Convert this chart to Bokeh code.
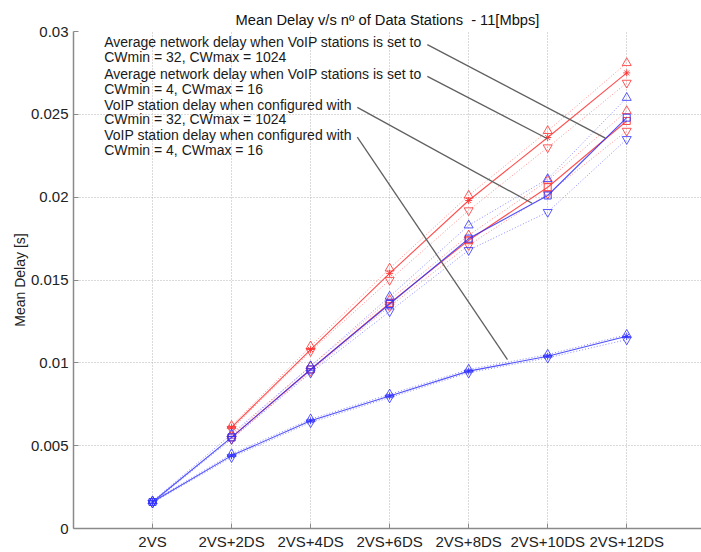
import numpy as np
from bokeh.plotting import figure
from bokeh.models import FixedTicker, Range1d, CustomJSTickFormatter
from bokeh.embed import file_html
from bokeh.resources import INLINE
from bokeh.core.properties import value

nan = float("nan")

# ---------------- data ----------------
categories = ["2VS", "2VS+2DS", "2VS+4DS", "2VS+6DS", "2VS+8DS", "2VS+10DS", "2VS+12DS"]
y_ticks = [0, 0.005, 0.01, 0.015, 0.02, 0.025, 0.03]

# Average network delay, VoIP CWmin=4, CWmax=16 (red, '*')
net_cw4_mean = [nan, 0.0061, 0.0108, 0.0154, 0.0198, 0.0236, 0.0275]
net_cw4_hi = [nan, 0.0062, 0.0110, 0.0157, 0.0201, 0.0240, 0.0281]
net_cw4_lo = [nan, 0.0060, 0.0107, 0.0150, 0.0192, 0.0230, 0.0269]

# Average network delay, VoIP CWmin=32, CWmax=1024 (red, square)
net_cw32_mean = [nan, 0.0055, 0.0096, 0.0136, 0.0174, 0.0206, 0.0246]
net_cw32_hi = [nan, 0.0056, 0.0098, 0.0138, 0.0177, 0.0210, 0.0252]
net_cw32_lo = [nan, 0.0054, 0.0095, 0.0134, 0.0171, 0.0202, 0.0240]

# VoIP station delay, CWmin=32, CWmax=1024 (blue, square)
voip_cw32_mean = [0.0016, 0.0055, 0.0096, 0.01355, 0.0175, 0.0201, 0.0248]
voip_cw32_hi = [0.00165, 0.0057, 0.0098, 0.0140, 0.0183, 0.0211, 0.0260]
voip_cw32_lo = [0.00155, 0.0054, 0.0094, 0.0131, 0.0168, 0.0191, 0.0235]

# VoIP station delay, CWmin=4, CWmax=16 (blue, '*')
voip_cw4_mean = [0.0016, 0.0044, 0.0065, 0.0080, 0.0095, 0.0104, 0.0116]
voip_cw4_hi = [0.00165, 0.0045, 0.0066, 0.0081, 0.0096, 0.0105, 0.0117]
voip_cw4_lo = [0.00155, 0.0043, 0.0064, 0.0079, 0.0094, 0.0103, 0.0114]

annotation_lines = [
    "Average network delay when VoIP stations is set to",
    "CWmin = 32, CWmax = 1024",
    "Average network delay when VoIP stations is set to",
    "CWmin = 4, CWmax = 16",
    "VoIP station delay when configured with",
    "CWmin = 32, CWmax = 1024",
    "VoIP station delay when configured with",
    "CWmin = 4, CWmax = 16",
]

# ---------------- figure ----------------
FONT = "Liberation Sans"
xs = list(range(1, len(categories) + 1))

p = figure(width=701, height=552, output_backend="svg", toolbar_location=None,
           x_range=Range1d(0, 7.946), y_range=Range1d(0, 0.03),
           min_border_left=73, min_border_right=0, min_border_top=31, min_border_bottom=22,
           title="Mean Delay v/s nº of Data Stations \u00a0- 11[Mbps]")
p.outline_line_color = None
p.background_fill_color = "white"
p.border_fill_color = "white"

p.title.align = "center"
p.title.text_font = FONT
p.title.text_font_size = "14.7px"
p.title.text_font_style = "normal"
p.title.text_color = "#111111"
p.title.standoff = 7

for ax in (p.xaxis[0], p.yaxis[0]):
    ax.axis_line_color = "#8a8a8a"
    ax.axis_line_width = 1.5
    ax.major_tick_line_color = "#8a8a8a"
    ax.major_tick_in = 5
    ax.major_tick_out = 0
    ax.minor_tick_line_color = None
    ax.major_label_text_font = FONT
    ax.major_label_text_font_size = "15px"
    ax.major_label_text_color = "#222222"

p.xaxis.ticker = FixedTicker(ticks=xs)
p.xaxis.major_label_overrides = {x: c for x, c in zip(xs, categories)}
p.xaxis.major_label_standoff = 4

p.yaxis.ticker = FixedTicker(ticks=y_ticks)
p.yaxis.formatter = CustomJSTickFormatter(code="return parseFloat(tick.toFixed(6)).toString();")
p.yaxis.major_label_standoff = 5
p.yaxis.axis_label = "Mean Delay [s]"
p.yaxis.axis_label_text_font = FONT
p.yaxis.axis_label_text_font_size = "14px"
p.yaxis.axis_label_text_font_style = "normal"
p.yaxis.axis_label_text_color = "#222222"
p.yaxis.axis_label_standoff = 0

for g in (p.xgrid[0], p.ygrid[0]):
    g.grid_line_color = "#b5b5b5"
    g.grid_line_dash = "1 2"
    g.grid_line_width = 1

RED = "#ff3030"
RED_L = "#ff8c8c"
BLUE = "#3030ff"
BLUE_L = "#8c8cff"

def series(mean, hi, lo, col, col_l, marker):
    for arr in (hi, lo):
        p.line(xs, arr, line_color=col_l, line_width=1, line_dash="1 2")
    p.line(xs, mean, line_color=col, line_width=1.1, line_alpha=0.85)
    p.scatter(xs, hi, marker="triangle", size=9, fill_color=None, line_color=col, line_alpha=0.8)
    p.scatter(xs, lo, marker="inverted_triangle", size=9, fill_color=None, line_color=col, line_alpha=0.8)
    p.scatter(xs, mean, marker=marker, size=7, fill_color=None, line_color=col, line_alpha=0.9)

series(net_cw4_mean, net_cw4_hi, net_cw4_lo, RED, RED_L, "asterisk")
series(net_cw32_mean, net_cw32_hi, net_cw32_lo, RED, RED_L, "square")
series(voip_cw32_mean, voip_cw32_hi, voip_cw32_lo, BLUE, BLUE_L, "square")
series(voip_cw4_mean, voip_cw4_hi, voip_cw4_lo, BLUE, BLUE_L, "asterisk")

# ---------------- annotations ----------------
text_x = 0.389
text_y = [0.02935, 0.02845, 0.02741, 0.02651, 0.02559, 0.02470, 0.02374, 0.02283]
p.text(x=[text_x] * len(annotation_lines), y=text_y, text=annotation_lines,
       text_font=value(FONT), text_font_size=value("14px"), text_baseline="middle",
       text_align="left", text_color="#1a1a1a")

lead_x0 = [4.477, 4.477, 3.591, 3.591]
lead_y0 = [0.02921, 0.02729, 0.02542, 0.02362]
lead_x1 = [6.730, 5.992, 5.803, 5.491]
lead_y1 = [0.02356, 0.02354, 0.01963, 0.01020]
p.segment(lead_x0, lead_y0, lead_x1, lead_y1, line_color="#606060", line_width=1.3)

open("out.html", "w").write(file_html(p, INLINE))
